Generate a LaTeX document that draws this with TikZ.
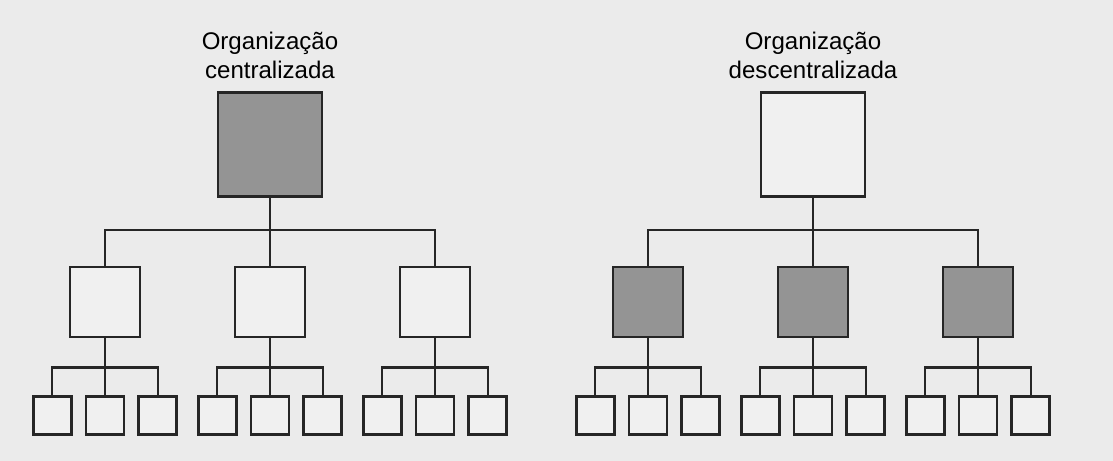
\documentclass[tikz,border=0pt]{standalone}
\usepackage{fontspec}
\setmainfont{Liberation Sans}
\usepackage{tikz}
\usetikzlibrary{positioning}
\definecolor{papelFundo}{gray}{0.92}
\definecolor{cinzaEscuro}{gray}{0.58}
\definecolor{cinzaClaro}{gray}{0.94}

\begin{document}
\begin{tikzpicture}[
        caixa/.style={rectangle, draw=black!85, line width=1.6pt, inner sep=0pt},
        caixaTopo/.style={caixa, minimum size=2.08cm},
        caixaMedia/.style={caixa, minimum size=1.40cm},
        caixaPequena/.style={caixa, fill=cinzaClaro, minimum size=0.76cm},
        escura/.style={fill=cinzaEscuro},
        clara/.style={fill=cinzaClaro},
        ligacao/.style={draw=black!85, line width=1.4pt},
        titulo/.style={font=\fontsize{13.7}{16.5}\selectfont, align=center, inner sep=0pt, anchor=south}
    ]
        % Fundo
        \fill[papelFundo] (0,0) rectangle (22.26,9.22);
        \useasboundingbox (0,0) rectangle (22.26,9.22);

        % Organizacao centralizada
        \node[titulo] (tituloC) at (5.40, 7.64) {Organização\\centralizada};
        \node[caixaTopo, escura] (topoC) at (5.40, 6.33) {};
        \node[caixaMedia, clara] (medC1) at (2.10, 3.18) {};
        \node[caixaMedia, clara] (medC2) at (5.40, 3.18) {};
        \node[caixaMedia, clara] (medC3) at (8.70, 3.18) {};

        \draw[ligacao] (topoC.south) -- (medC2.north);
        \draw[ligacao] (medC1.north) -- ++(0,0.71) -| (medC3.north);

        % Organizacao descentralizada
        \node[titulo] (tituloD) at (16.26, 7.64) {Organização\\descentralizada};
        \node[caixaTopo, clara] (topoD) at (16.26, 6.33) {};
        \node[caixaMedia, escura] (medD1) at (12.96, 3.18) {};
        \node[caixaMedia, escura] (medD2) at (16.26, 3.18) {};
        \node[caixaMedia, escura] (medD3) at (19.56, 3.18) {};

        \draw[ligacao] (topoD.south) -- (medD2.north);
        \draw[ligacao] (medD1.north) -- ++(0,0.71) -| (medD3.north);

        % Unidades da base (tres por caixa media)
        \foreach \med in {medC1, medC2, medC3, medD1, medD2, medD3} {
            \node[caixaPequena, below=1.13cm of \med] (\med-b) {};
            \node[caixaPequena, left=0.24cm of \med-b] (\med-a) {};
            \node[caixaPequena, right=0.24cm of \med-b] (\med-c) {};
            \draw[ligacao] (\med.south) -- (\med-b.north);
            \draw[ligacao] (\med-a.north) -- ++(0,0.55) -| (\med-c.north);
        }
    \end{tikzpicture}
\end{document}
